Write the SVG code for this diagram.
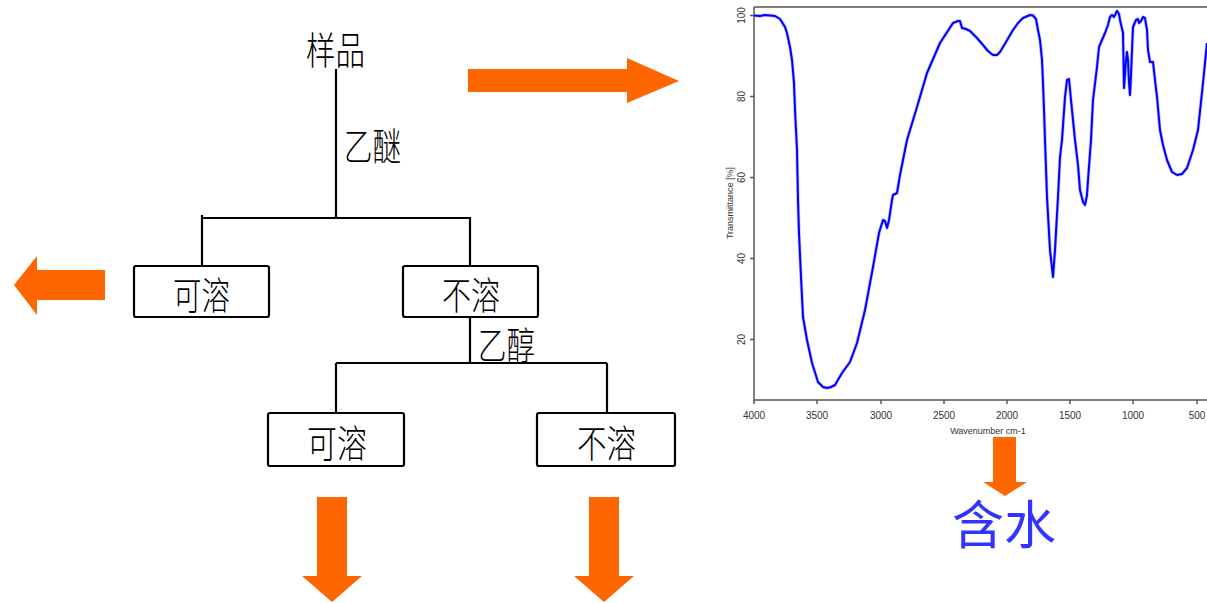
<svg xmlns="http://www.w3.org/2000/svg" width="1207" height="603" viewBox="0 0 1207 603">
<style>
.cn{font-family:"Noto Sans CJK SC","Noto Sans CJK JP",sans-serif;font-size:38px;font-weight:300;fill:#000}
.box{fill:#fff;stroke:#000;stroke-width:2.2}
.ln{stroke:#000;stroke-width:2.2;fill:none}
.arr{fill:#ff6600}
.ax{stroke:#555;stroke-width:1.5;fill:none}
.tk{font-family:"Liberation Sans",Arial,sans-serif;font-size:10px;fill:#333}
.lbl{font-family:"Liberation Sans",Arial,sans-serif;font-size:9px;fill:#333}
</style>
<rect width="1207" height="603" fill="#fff"/>
<g id="connectors">
<path class="ln" d="M336,69 V218 M202,215 V266 M202,218 H470 V266 M470,317 V363 M336,363 H607 M336,363 V413 M607,363 V413"/>
</g>
<g id="node-sample"><text class="cn" x="306" y="64" textLength="59" lengthAdjust="spacingAndGlyphs">样品</text></g>
<g id="label-ether"><text class="cn" x="344" y="160" textLength="57" lengthAdjust="spacingAndGlyphs">乙醚</text></g>
<g id="node-soluble1"><rect class="box" x="134" y="266" width="135" height="51" rx="2"/><text class="cn" x="173" y="309" textLength="57" lengthAdjust="spacingAndGlyphs">可溶</text></g>
<g id="node-insoluble1"><rect class="box" x="403" y="266" width="135" height="51" rx="2"/><text class="cn" x="442" y="309" textLength="58" lengthAdjust="spacingAndGlyphs">不溶</text></g>
<g id="label-ethanol"><text class="cn" x="478" y="359" textLength="57" lengthAdjust="spacingAndGlyphs">乙醇</text></g>
<g id="node-soluble2"><rect class="box" x="268" y="413" width="136" height="53" rx="2"/><text class="cn" x="307" y="457" textLength="60" lengthAdjust="spacingAndGlyphs">可溶</text></g>
<g id="node-insoluble2"><rect class="box" x="537" y="413" width="138" height="53" rx="2"/><text class="cn" x="577" y="457" textLength="59" lengthAdjust="spacingAndGlyphs">不溶</text></g>
<g id="arrows">
<polygon class="arr" points="468,69 627,69 627,58 679,81 627,103 627,92 468,92"/>
<polygon class="arr" points="105,270 37,270 37,256 14,285 37,315 37,300 105,300"/>
<polygon class="arr" points="317,497 347,497 347,576 362,576 332,602 302,576 317,576"/>
<polygon class="arr" points="589,497 619,497 619,576 634,576 604,602 574,576 589,576"/>
<polygon class="arr" points="993,437 1016,437 1016,482 1027,482 1005,496 983,482 993,482"/>
</g>
<g id="spectrum">
<path class="ax" d="M754,7 H1207 M754,7 V400 H1207"/>
<path class="ax" d="M754,400 v4 M817,400 v4 M881,400 v4 M944,400 v4 M1007,400 v4 M1070,400 v4 M1133,400 v4 M1197,400 v4 M754,15.5 h-4 M754,96.5 h-4 M754,177.5 h-4 M754,258.5 h-4 M754,339.5 h-4"/>
<g class="tk" text-anchor="middle">
<text x="754" y="419">4000</text><text x="817" y="419">3500</text><text x="881" y="419">3000</text><text x="944" y="419">2500</text><text x="1007" y="419">2000</text><text x="1070" y="419">1500</text><text x="1133" y="419">1000</text><text x="1197" y="419">500</text>
<text transform="translate(745,15.5) rotate(-90)">100</text>
<text transform="translate(745,96.5) rotate(-90)">80</text>
<text transform="translate(745,177.5) rotate(-90)">60</text>
<text transform="translate(745,258.5) rotate(-90)">40</text>
<text transform="translate(745,339.5) rotate(-90)">20</text>
</g>
<text class="lbl" text-anchor="middle" transform="translate(733,203) rotate(-90)">Transmittance [%]</text>
<text class="lbl" text-anchor="middle" x="988" y="434">Wavenumber cm-1</text>
<path fill="none" stroke="#8080ff" stroke-width="3.4" stroke-linejoin="round" opacity="0.5" d="M754,15.5 L760,16 L765,15 L770,15.5 L775,16 L780,19 L785,27 L787,33 L790,47 L792,60 L794,83 L795,110 L797,150 L798,200 L799,233 L801,277 L803,317 L807,340 L812,363 L818,382 L823,387 L827,388 L831,387 L835,385 L842,373 L850,362 L857,343 L865,310 L873,267 L879,233 L883,220 L885,221 L887,228 L889,220 L892,200 L893,195 L897,193 L900,175 L907,140 L917,107 L927,73 L940,43 L953,23 L958,21 L960,21 L962,28 L966,29 L970,31 L977,38 L983,45 L988,51 L993,55 L997,55 L1000,52 L1006,42 L1013,30 L1018,23 L1023,18 L1030,15 L1033,15.5 L1036,19 L1038,30 L1040,40 L1042,60 L1043,83 L1044,110 L1045,140 L1047,197 L1050,250 L1053,277 L1055,250 L1058,197 L1060,157 L1062,140 L1065,97 L1067,80 L1069,79 L1071,100 L1073,120 L1075,140 L1078,165 L1080,190 L1083,202 L1085,205 L1087,195 L1088,180 L1091,140 L1093,100 L1097,67 L1099,47 L1105,33 L1108,25 L1110,17 L1112,15 L1114,17 L1116,13 L1117,11 L1119,14 L1120,20 L1123,33 L1124,88 L1126,60 L1127,52 L1128,60 L1129,83 L1130,95 L1131,75 L1132,50 L1133,27 L1136,20 L1138,19 L1139,23 L1141,21 L1143,17 L1145,18 L1147,30 L1148,50 L1150,62 L1153,62 L1155,80 L1157,97 L1160,130 L1163,145 L1167,160 L1172,172 L1177,175 L1182,174 L1187,168 L1193,150 L1198,130 L1203,83 L1207,43"/>
<path fill="none" stroke="#0000ff" stroke-width="2" stroke-linejoin="round" d="M754,15.5 L760,16 L765,15 L770,15.5 L775,16 L780,19 L785,27 L787,33 L790,47 L792,60 L794,83 L795,110 L797,150 L798,200 L799,233 L801,277 L803,317 L807,340 L812,363 L818,382 L823,387 L827,388 L831,387 L835,385 L842,373 L850,362 L857,343 L865,310 L873,267 L879,233 L883,220 L885,221 L887,228 L889,220 L892,200 L893,195 L897,193 L900,175 L907,140 L917,107 L927,73 L940,43 L953,23 L958,21 L960,21 L962,28 L966,29 L970,31 L977,38 L983,45 L988,51 L993,55 L997,55 L1000,52 L1006,42 L1013,30 L1018,23 L1023,18 L1030,15 L1033,15.5 L1036,19 L1038,30 L1040,40 L1042,60 L1043,83 L1044,110 L1045,140 L1047,197 L1050,250 L1053,277 L1055,250 L1058,197 L1060,157 L1062,140 L1065,97 L1067,80 L1069,79 L1071,100 L1073,120 L1075,140 L1078,165 L1080,190 L1083,202 L1085,205 L1087,195 L1088,180 L1091,140 L1093,100 L1097,67 L1099,47 L1105,33 L1108,25 L1110,17 L1112,15 L1114,17 L1116,13 L1117,11 L1119,14 L1120,20 L1123,33 L1124,88 L1126,60 L1127,52 L1128,60 L1129,83 L1130,95 L1131,75 L1132,50 L1133,27 L1136,20 L1138,19 L1139,23 L1141,21 L1143,17 L1145,18 L1147,30 L1148,50 L1150,62 L1153,62 L1155,80 L1157,97 L1160,130 L1163,145 L1167,160 L1172,172 L1177,175 L1182,174 L1187,168 L1193,150 L1198,130 L1203,83 L1207,43"/>
</g>
<g id="node-water"><text x="1004" y="544" text-anchor="middle" font-family="'Noto Sans CJK SC','Noto Sans CJK JP',serif" font-size="52" fill="#3333ff">含水</text></g>
</svg>
